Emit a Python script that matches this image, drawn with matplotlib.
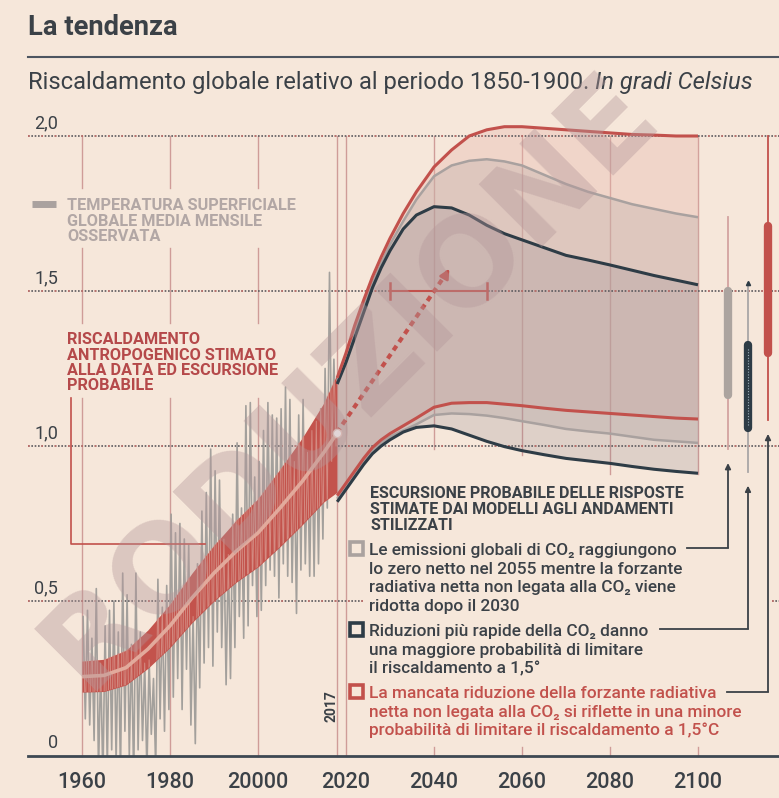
import matplotlib.pyplot as plt
import numpy as np
from matplotlib.patches import Rectangle

# colours
BG = '#f6e7da'
DARK = '#3b4147'
RED = '#c2514c'
NAVY = '#2e3c46'
GREY = '#a9a19f'
GRID_RED = '#cf9c98'
FONT = ['Roboto', 'DejaVu Sans']

# observed monthly global mean surface temperature (two readings per year, from 1960)
obs_start = 1960
obs_values = [
    0.45, 0.12, 0.47, 0.10, 0.38, 0.05, 0.54, -0.05, 0.30, -0.08,
    0.42, -0.04, 0.47, 0.02, 0.50, -0.02, 0.40, -0.06, 0.59, 0.08,
    0.52, 0.00, 0.36, -0.08, 0.59, 0.02, 0.40, 0.05, 0.30, -0.05,
    0.31, 0.07, 0.25, -0.04, 0.57, 0.12, 0.48, 0.08, 0.55, 0.15,
    0.78, 0.19, 0.72, 0.25, 0.75, 0.15, 0.70, 0.28, 0.68, 0.10,
    0.45, 0.04, 0.62, 0.22, 0.79, 0.30, 0.85, 0.35, 0.99, 0.29,
    0.92, 0.40, 0.89, 0.35, 0.70, 0.23, 0.65, 0.25, 0.78, 0.35,
    1.01, 0.45, 0.80, 0.38, 1.13, 0.42, 1.14, 0.55, 0.90, 0.45,
    0.95, 0.47, 1.05, 0.55, 1.14, 0.60, 1.10, 0.58, 1.09, 0.51,
    1.12, 0.62, 1.19, 0.58, 1.15, 0.56, 0.95, 0.46, 1.10, 0.60,
    1.15, 0.62, 0.98, 0.58, 1.05, 0.58, 1.08, 0.62, 1.12, 0.70,
    1.25, 0.80, 1.56, 0.95, 1.28, 1.00,
]

# estimated anthropogenic warming and likely range
anth_years = [1960, 1965, 1970, 1975, 1980, 1985, 1990, 1995, 2000, 2005, 2010, 2015, 2017.9]
anth_mid = [0.256, 0.26, 0.285, 0.345, 0.42, 0.51, 0.59, 0.66, 0.72, 0.80, 0.885, 0.98, 1.04]
anth_lo = [0.206, 0.208, 0.229, 0.283, 0.35, 0.43, 0.50, 0.56, 0.61, 0.675, 0.745, 0.82, 0.85]
anth_hi = [0.306, 0.312, 0.341, 0.407, 0.49, 0.59, 0.68, 0.76, 0.83, 0.925, 1.025, 1.14, 1.23]

# stylised pathways: likely ranges of model responses
scen_years = [2018, 2020, 2022, 2024, 2026, 2028, 2030, 2033, 2036, 2040, 2044, 2048,
              2052, 2056, 2060, 2065, 2070, 2075, 2080, 2085, 2090, 2095, 2100]
red_hi = [1.22, 1.30, 1.39, 1.47, 1.545, 1.61, 1.67, 1.75, 1.82, 1.90, 1.955, 2.0,
          2.02, 2.03, 2.03, 2.025, 2.02, 2.015, 2.01, 2.005, 2.003, 2.0, 2.0]
red_lo = [0.84, 0.88, 0.92, 0.96, 0.995, 1.02, 1.04, 1.065, 1.09, 1.125, 1.138, 1.14,
          1.14, 1.135, 1.13, 1.122, 1.115, 1.11, 1.105, 1.10, 1.095, 1.09, 1.087]
grey_hi = [1.21, 1.28, 1.37, 1.45, 1.525, 1.59, 1.65, 1.725, 1.795, 1.87, 1.905, 1.92,
           1.925, 1.918, 1.905, 1.875, 1.845, 1.82, 1.80, 1.78, 1.765, 1.75, 1.738]
grey_lo = [0.83, 0.87, 0.91, 0.95, 0.985, 1.01, 1.03, 1.05, 1.07, 1.10, 1.105, 1.103,
           1.098, 1.09, 1.08, 1.068, 1.055, 1.047, 1.04, 1.03, 1.02, 1.015, 1.01]
navy_hi = [1.20, 1.27, 1.35, 1.43, 1.51, 1.575, 1.63, 1.70, 1.745, 1.772, 1.768, 1.745,
           1.712, 1.685, 1.665, 1.64, 1.615, 1.60, 1.584, 1.567, 1.55, 1.535, 1.52]
navy_lo = [0.82, 0.86, 0.90, 0.94, 0.975, 1.0, 1.02, 1.045, 1.06, 1.065, 1.055, 1.035,
           1.015, 0.998, 0.985, 0.972, 0.96, 0.952, 0.944, 0.934, 0.925, 0.918, 0.912]

# 2100 ranges (grey, navy, red): full range and likely range
bar_full_lo = [0.99, 0.917, 1.084]
bar_full_hi = [1.74, 1.525, 2.00]
bar_likely_lo = [1.165, 1.058, 1.30]
bar_likely_hi = [1.50, 1.326, 1.71]

# time at which 1.5 C is reached, and the extrapolated trend arrow
cross_15 = [2030, 2052]
trend_start = (2017.9, 1.043)
trend_end = (2043.8, 1.58)

y_ticks = [0, 0.5, 1.0, 1.5, 2.0]
y_labels = ['0', '0,5', '1,0', '1,5', '2,0']
x_ticks = [1960, 1980, 2000, 2020, 2040, 2060, 2080, 2100]
x_labels = ['1960', '1980', '20000', '2020', '2040', '2060', '2080', '2100']


def px_x(p):
    return 1960 + (p - 82) / 4.4


def px_y(p):
    return (756 - p) / 310


fig = plt.figure(figsize=(7.79, 7.98), dpi=100, facecolor=BG)
ax = fig.add_axes([0, 0, 1, 1])
ax.set_facecolor(BG)
ax.set_xlim(px_x(0), px_x(779))
ax.set_ylim(px_y(798), px_y(0))
ax.axis('off')

# vertical grid
for yr in [1960, 1980, 2000]:
    for a, b in [(0, px_y(398)), (px_y(323), px_y(248)), (px_y(188), 2.0)]:
        ax.plot([yr, yr], [a, b], color=GRID_RED, lw=1, zorder=1)
for yr in [2017.9, 2020]:
    ax.plot([yr, yr], [0, 2.0], color=GRID_RED, lw=1, zorder=1)
for yr, end in zip([2040, 2060, 2080, 2100], [0.99, 0.97, 0.91, 0.91]):
    ax.plot([yr, yr], [end, 2.0], color=GRID_RED, lw=1, zorder=1)
    ax.plot([yr, yr], [0, 0.03], color=GRID_RED, lw=1, zorder=1)

# horizontal dotted grid
x_left, x_right = px_x(28), px_x(779)
for v in [1.0, 1.5, 2.0]:
    ax.plot([x_left, x_right], [v, v], color='#5d5a5e', lw=1.2, ls=(0, (1, 1)), zorder=3)
    ax.plot([x_left, x_right], [v, v], color='#c9706b', lw=1.2, ls=(0, (1, 7)), zorder=3)
for a, b in [(x_left, px_x(363)), (px_x(772), x_right)]:
    ax.plot([a, b], [0.5, 0.5], color='#5d5a5e', lw=1.2, ls=(0, (1, 1)), zorder=3)
    ax.plot([a, b], [0.5, 0.5], color='#c9706b', lw=1.2, ls=(0, (1, 7)), zorder=3)

# scenario fills
ax.fill_between(scen_years, red_lo, red_hi, color='#e8b9ae', alpha=0.38, lw=0, zorder=2)
ax.fill_between(scen_years, grey_lo, grey_hi, color='#b5a9a6', alpha=0.30, lw=0, zorder=2)
ax.fill_between(scen_years, navy_lo, navy_hi, color='#8d7f88', alpha=0.22, lw=0, zorder=2)
for hi, lo, c, lw in [(grey_hi, grey_lo, GREY, 1.8), (navy_hi, navy_lo, NAVY, 2.2),
                      (red_hi, red_lo, RED, 2.2)]:
    ax.plot(scen_years, hi, color=c, lw=lw, zorder=6, solid_capstyle='butt')
    ax.plot(scen_years, lo, color=c, lw=lw, zorder=6, solid_capstyle='butt')

# observed data, clipped at the zero line
obs_years = obs_start + 0.25 + 0.5 * np.arange(len(obs_values))
clip = Rectangle((1950, 0), 80, 3, transform=ax.transData)
obs_line, = ax.plot(obs_years, obs_values, color='#a3a09c', lw=1.2, zorder=4)
obs_line.set_clip_path(clip)

# anthropogenic warming band
band = ax.fill_between(anth_years, anth_lo, anth_hi, color='#c3534c', lw=0, zorder=5)
pink, = ax.plot(obs_years, obs_values, color='#d48b82', lw=0.7, zorder=5.5)
pink.set_clip_path(band.get_paths()[0], ax.transData)
ax.plot(anth_years, anth_mid, color='#e2aa9c', lw=2.6, zorder=6, solid_capstyle='butt')

# trend arrow and 1.5 crossing bar
ax.plot([trend_start[0], trend_end[0] - 0.6], [trend_start[1], trend_end[1] - 0.015],
        color=RED, lw=3, ls=(0, (1.3, 1.1)), zorder=8)
ax.annotate('', xy=trend_end, xytext=(trend_end[0] - 1.2, trend_end[1] - 0.03),
            arrowprops=dict(arrowstyle='-|>', color=RED, lw=2, mutation_scale=14), zorder=8)
ax.plot(*trend_start, 'o', ms=6, mfc='white', mec='#e8c8c0', mew=1, zorder=9)
ax.plot(cross_15, [1.5, 1.5], color=RED, lw=1.5, zorder=8)
for c in cross_15:
    ax.plot([c, c], [1.475, 1.525], color=RED, lw=1.8, zorder=8)

# 2100 range bars
bar_x = [px_x(728), px_x(748), px_x(768)]
thin_c = ['#d3a3a0', '#a9a6a6', RED]
thick_c = ['#aca49f', NAVY, RED]
for i in range(3):
    ax.plot([bar_x[i]] * 2, [bar_full_lo[i], bar_full_hi[i]], color=thin_c[i], lw=1.3, zorder=6)
    ax.plot([bar_x[i]] * 2, [bar_likely_lo[i], bar_likely_hi[i]], color=thick_c[i], lw=6,
            solid_capstyle='round', zorder=7)
ax.plot([bar_x[1]] * 2, [bar_likely_lo[1] + 0.01, bar_likely_hi[1] - 0.01], color='#9fb0ba',
        lw=0.8, ls=(0, (1, 1.5)), zorder=8)
ax.plot(bar_x[1], bar_full_hi[1], marker='^', ms=3, color=NAVY, zorder=8)

# connectors from legend to bars
for i, (xs, ys) in enumerate([(687, 548), (660, 629), (727, 692)]):
    yh = px_y(ys)
    ax.plot([px_x(xs), bar_x[i]], [yh, yh], color=DARK, lw=1.3, zorder=8)
    ax.annotate('', xy=(bar_x[i], bar_full_lo[i] - 0.045), xytext=(bar_x[i], yh + 0.002),
                arrowprops=dict(arrowstyle='-|>', color=DARK, lw=1.3, mutation_scale=8,
                                shrinkA=0, shrinkB=0), zorder=8)

# axis line and ticks
ax.plot([x_left, x_right], [0, 0], color='#3d4852', lw=2, zorder=9)
for v, lab in zip(y_ticks, y_labels):
    ax.text(px_x(58), v + 7.5 / 310, lab, ha='right', va='baseline', fontsize=13,
            color=DARK, family=FONT)
for yr, lab in zip(x_ticks, x_labels):
    ax.text(yr, px_y(788), lab, ha='center', va='baseline', fontsize=15.5,
            fontweight='medium', color=DARK, family=FONT)
ax.text(px_x(332), px_y(706), '2017', rotation=90, ha='center', va='center', fontsize=10,
        fontweight='bold', color=DARK, family=FONT)

# titles
renderer = fig.canvas.get_renderer()
ttl = ax.text(px_x(28), px_y(35), 'La tendenza', fontsize=17, fontweight='bold', color=DARK,
              va='baseline', family=FONT)
ttl.set_fontsize(17 * 150 / ttl.get_window_extent(renderer).width)
ax.plot([px_x(28), px_x(779)], [px_y(57), px_y(57)], color='#4d5560', lw=1.5)
sub1 = ax.text(px_x(28), px_y(89), 'Riscaldamento globale relativo al periodo 1850-1900. ',
               fontsize=14.5, color=DARK, va='baseline', family=FONT)
sub2 = ax.text(px_x(28), px_y(89), 'In gradi Celsius', fontsize=14.5, style='italic',
               color=DARK, va='baseline', family=FONT)
w = sub1.get_window_extent(renderer).width + sub2.get_window_extent(renderer).width
fs = 14.5 * 724 / w
sub1.set_fontsize(fs)
sub2.set_fontsize(fs)
sub2.set_x(px_x(28 + sub1.get_window_extent(renderer).width))


def block(x, baselines, lines, **kw):
    for b, line in zip(baselines, lines):
        ax.text(px_x(x), px_y(b), line, va='baseline', family=FONT, zorder=9, **kw)


# observed-data key
ax.plot([px_x(32), px_x(56)], [px_y(203.5)] * 2, color='#aaa29f', lw=5, solid_capstyle='butt')
block(67, [210, 225.5, 241], ['TEMPERATURA SUPERFICIALE', 'GLOBALE MEDIA MENSILE', 'OSSERVATA'],
      fontsize=11.7, fontweight='bold', color='#b2a7a5')

# anthropogenic key with bracket
block(67, [344, 359.5, 375, 390.5],
      ['RISCALDAMENTO', 'ANTROPOGENICO STIMATO', 'ALLA DATA ED ESCURSIONE', 'PROBABILE'],
      fontsize=11.7, fontweight='bold', color='#b5494a')
ax.plot([px_x(71), px_x(71), px_x(205)], [px_y(398), px_y(544), px_y(544)], color=RED, lw=1.2,
        zorder=7)

# scenario legend
block(370, [498, 514.5, 530],
      ['ESCURSIONE PROBABILE DELLE RISPOSTE', 'STIMATE DAI MODELLI AGLI ANDAMENTI', 'STILIZZATI'],
      fontsize=11.5, fontweight='bold', color=DARK)
items = [
    ([555, 573.5, 592, 610.5],
     ['Le emissioni globali di CO₂ raggiungono', 'lo zero netto nel 2055 mentre la forzante',
      'radiativa netta non legata alla CO₂ viene', 'ridotta dopo il 2030'], DARK, '#aaa29f', 541.5),
    ([636, 654.5, 673],
     ['Riduzioni più rapide della CO₂ danno', 'una maggiore probabilità di limitare',
      'il riscaldamento a 1,5°'], DARK, NAVY, 623),
    ([698, 716.5, 735],
     ['La mancata riduzione della forzante radiativa',
      'netta non legata alla CO₂ si riflette in una minore',
      'probabilità di limitare il riscaldamento a 1,5°C'], RED, RED, 685),
]
for bases, lines, tc, sc, top in items:
    block(369, bases, lines, fontsize=12.4, fontweight='medium', color=tc)
    ax.add_patch(Rectangle((px_x(349.5), px_y(top + 13)), 13.5 / 4.4, 13 / 310, fill=False,
                           ec=sc, lw=2.6, zorder=9))

# watermark
ax.text(px_x(350), px_y(380), 'RODUZIONE', rotation=45, ha='center', va='center',
        rotation_mode='anchor', fontsize=87, fontweight='bold', color='#b4979a', alpha=0.4,
        family='DejaVu Sans', zorder=20)

fig.savefig('out.png', dpi=100, facecolor=BG)
